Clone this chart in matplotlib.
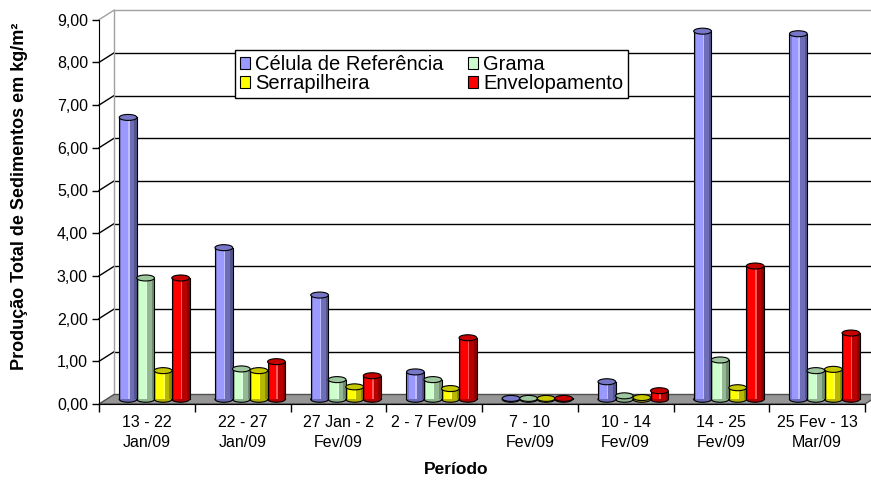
import numpy as np
import matplotlib.pyplot as plt
from matplotlib.patches import Ellipse, Polygon, Patch
from matplotlib.colors import to_rgb

plt.rcParams['font.family'] = ['Liberation Sans', 'DejaVu Sans']

# Sediment production per period (kg/m2)
periodos = ["13 - 22\nJan/09", "22 - 27\nJan/09", "27 Jan - 2\nFev/09", "2 - 7 Fev/09",
            "7 - 10\nFev/09", "10 - 14\nFev/09", "14 - 25\nFev/09", "25 Fev - 13\nMar/09"]
series = ["Célula de Referência", "Grama", "Serrapilheira", "Envelopamento"]
celula = [6.60, 3.55, 2.44, 0.64, 0.02, 0.41, 8.62, 8.56]
grama = [2.84, 0.71, 0.46, 0.46, 0.02, 0.08, 0.92, 0.67]
serrapilheira = [0.67, 0.67, 0.29, 0.25, 0.02, 0.04, 0.27, 0.70]
envelopamento = [2.84, 0.88, 0.55, 1.44, 0.02, 0.20, 3.12, 1.55]
cores = ["#9999FF", "#CCFFCC", "#FFFF00", "#FF0000"]
y_ticks = np.arange(0, 10)

W, H = 871, 482
fig = plt.figure(figsize=(W / 100, H / 100), dpi=100)
ax = fig.add_axes([99 / W, (H - 404) / H, 766 / W, 384.3 / H])
ax.set_xlim(0, 8)
ax.set_ylim(0, 9)
ax.patch.set_visible(False)

# depth of the fake 3D box, in data units
px_x = 766 / 8
px_y = 384.3 / 9
DX = 15 / px_x
DY = 9.5 / px_y
EH = 6 / px_y      # height of the cylinder caps
w = 0.185          # bar width
step = 0.183

# back wall: gridlines, left edge and the slanted connectors to the axis
for v in y_ticks[1:]:
    cor = "#A0A0A0" if v == 9 else "black"
    ax.plot([DX, 8 + DX], [v + DY, v + DY], color=cor, lw=1, zorder=0.5, clip_on=False)
    ax.plot([0, DX], [v, v + DY], color=cor, lw=1, zorder=0.5, clip_on=False)
ax.plot([DX, DX], [DY, 9 + DY], color="#A0A0A0", lw=1, zorder=0.5, clip_on=False)

# floor
ax.add_patch(Polygon([(0, 0), (8, 0), (8 + DX, DY), (DX, DY)], closed=True,
                     facecolor="#969696", edgecolor="#505050", lw=1, zorder=1, clip_on=False))


def cilindro(xc, v, cor):
    c = np.array(to_rgb(cor))
    base = DY / 2
    ax.add_patch(Ellipse((xc, base), w, EH, facecolor=c * 0.7, edgecolor="black",
                         lw=0.8, zorder=3, clip_on=False))
    faixas = [(0.0, 0.12, c * 0.8), (0.12, 0.5, c), (0.5, 0.58, c + (1 - c) * 0.35),
              (0.58, 0.85, c * 0.72), (0.85, 1.0, c * 0.55)]
    for a, b, col in faixas:
        ax.bar(xc - w / 2 + (a + b) / 2 * w, v, width=(b - a) * w, bottom=base,
               color=col, lw=0, zorder=4, clip_on=False)
    ax.plot([xc - w / 2] * 2, [base, base + v], color="black", lw=0.8, zorder=5, clip_on=False)
    ax.plot([xc + w / 2] * 2, [base, base + v], color="black", lw=0.8, zorder=5, clip_on=False)
    ax.add_patch(Ellipse((xc, base + v), w, EH, facecolor=c * 0.78, edgecolor="black",
                         lw=0.8, zorder=6, clip_on=False))


dados = [celula, grama, serrapilheira, envelopamento]
for i in range(len(periodos)):
    for j, vals in enumerate(dados):
        xc = i + 0.5 + (j - 1.5) * step + DX / 2
        cilindro(xc, vals[i], cores[j])

# axes
for s in ["top", "right"]:
    ax.spines[s].set_visible(False)
ax.spines["left"].set_color("black")
ax.spines["bottom"].set_color("black")

ax.set_yticks(y_ticks)
ax.set_yticklabels([f"{v:.2f}".replace(".", ",") for v in y_ticks])
ax.tick_params(axis="y", length=5, width=1, pad=3, labelsize=11.5)

ax.set_xticks(np.arange(9))
ax.set_xticklabels([])
ax.tick_params(axis="x", which="major", length=6, width=1)
ax.set_xticks(np.arange(8) + 0.5, minor=True)
ax.set_xticklabels(periodos, minor=True)
ax.tick_params(axis="x", which="minor", length=0, pad=8, labelsize=11.5)
for t in ax.get_xticklabels(minor=True):
    t.set_linespacing(1.4)

fig.text(20 / W, 1 - 196 / H, "Produção Total de Sedimentos em kg/m²", rotation=90,
         ha="center", va="center", fontsize=13, fontweight="bold")
fig.text(456 / W, 1 - 470 / H, "Período", ha="center", va="center",
         fontsize=12.5, fontweight="bold")

# legend, filled column by column
handles = [Patch(facecolor=c, edgecolor="black", lw=0.8) for c in cores]
ordem = [0, 2, 1, 3]
leg = ax.legend([handles[k] for k in ordem], [series[k] for k in ordem], ncol=2,
                loc="upper left", bbox_to_anchor=(235 / W, 1 - 50 / H),
                bbox_transform=fig.transFigure, borderaxespad=0, fancybox=False,
                edgecolor="black", framealpha=1, fontsize=14.5, handlelength=0.5,
                handleheight=0.5, handletextpad=0.25, columnspacing=1.2,
                labelspacing=0.0, borderpad=0.25)
leg.get_frame().set_linewidth(1)
leg.set_zorder(10)

fig.savefig("out.png", dpi=100)
